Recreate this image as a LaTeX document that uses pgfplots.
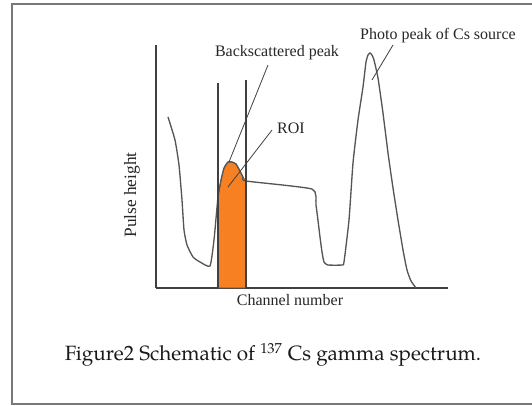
\documentclass[border=0pt]{standalone}
\usepackage{pgfplots}
\pgfplotsset{compat=1.18}
\usepackage{fontspec}
\setmainfont{Liberation Serif}
\newfontfamily\capfont{texgyrepagella-regular.otf}
\definecolor{roi}{RGB}{247,128,34}
\definecolor{curve}{RGB}{85,85,85}
\definecolor{frame}{RGB}{120,120,120}
\begin{document}
\begin{tikzpicture}
\begin{axis}[
  scale only axis, width=219pt, height=182.25pt,
  xmin=156, xmax=448, ymin=0, ymax=243,
  axis lines=left, axis line style={-, line width=0.8pt, color=black!75},
  xtick=\empty, ytick=\empty, clip=false,
]
% ROI fill
\addplot[fill=roi, draw=black!70, line width=0.4pt] coordinates {
 (218,0) (218,91) (221,108) (224,120) (228,126) (232,126) (236,124) (240,117) (243,111) (246,107) (246,0)} -- cycle;
% spectrum
\addplot[curve, line width=1pt, smooth, tension=0.3] coordinates {
 (168,171) (175,148) (179,123) (182,88) (184,58) (187,43) (193,31) (200,26) (210,22)
 (214,48) (218,91) (221,108) (224,120) (228,126) (232,126) (236,124) (240,117) (243,111) (246,107)
 (312,99) (316,83) (320,51) (322,36) (324,26) (328,23) (342,23) (344,26)
 (349,68) (353,125) (358,168) (363,201) (366,226) (368,233) (370,235) (372,233) (374,228)
 (378,210) (383,175) (388,135) (393,100) (398,68) (403,38) (407,18) (411,7) (416,0)};
% ROI boundaries
\addplot[black!75, line width=0.8pt] coordinates {(218,0) (218,205)};
\addplot[black!75, line width=0.8pt] coordinates {(246,0) (246,208)};
% pointer lines
\draw[black!75, line width=0.6pt] (axis cs:268,223) -- (axis cs:229,126);
\draw[black!75, line width=0.6pt] (axis cs:272,158) -- (axis cs:228,101);
\draw[black!75, line width=0.6pt] (axis cs:393,243) -- (axis cs:372,208);
% labels
\node[font=\fontsize{12}{14}\selectfont, text=black!85, inner sep=0pt] at (axis cs:277,235) {Backscattered peak};
\node[font=\fontsize{12}{14}\selectfont, text=black!85, inner sep=0pt] at (axis cs:438,252) {Photo peak of Cs source};
\node[font=\fontsize{12}{14}\selectfont, text=black!85, inner sep=0pt] at (axis cs:291,160) {ROI};
\node[font=\fontsize{12}{14}\selectfont, text=black!85, inner sep=0pt] at (axis cs:290,-12) {Channel number};
\node[font=\fontsize{13}{15}\selectfont, text=black!85, inner sep=0pt, rotate=90] at (axis cs:132,93) {Pulse height};
\node[font=\capfont\fontsize{15.5}{18}\selectfont, text=black!90, inner sep=0pt] at (axis cs:273,-67) {Figure2 Schematic of \textsuperscript{137} Cs gamma spectrum.};
% frame
\draw[frame, line width=1.5pt] (axis cs:533,284) -- (axis cs:12,284) -- (axis cs:12,-116) -- (axis cs:533,-116);
\coordinate (tl) at (axis cs:0,288);
\coordinate (br) at (axis cs:532,-117);
\end{axis}
\pgfresetboundingbox
\useasboundingbox (tl) rectangle (br);
\end{tikzpicture}
\end{document}
